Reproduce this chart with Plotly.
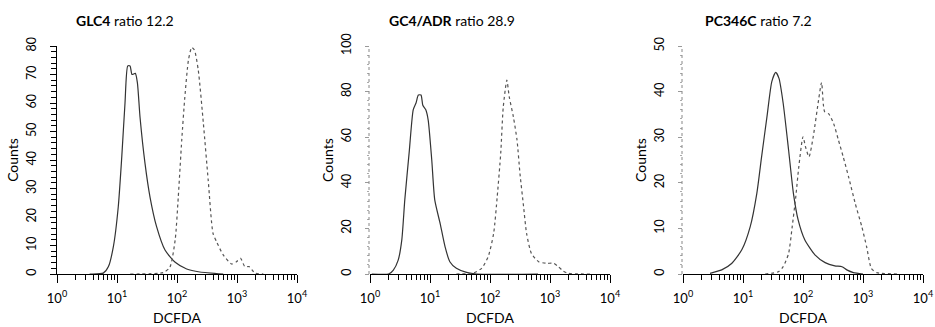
import plotly.graph_objects as go

# ---------------- data (DCFDA fluorescence, counts) ----------------
panel_titles = ["<b>GLC4</b> ratio 12.2", "<b>GC4/ADR</b> ratio 28.9", "<b>PC346C</b> ratio 7.2"]

glc4_ctrl_x = [3.5, 5.9, 7.2, 8.7, 10.5, 12.0, 13.6, 15.1, 16.5, 17.8, 20.2, 21.9, 24.2, 29.3, 35.5, 45.7, 63.1, 93.3, 145, 240, 590]
glc4_ctrl_y = [0, 0.3, 2.6, 9.6, 23.6, 41, 60, 73, 73, 70, 70.4, 67, 55, 38.8, 27, 16.6, 8.4, 4.1, 1.75, 0.7, 0]
glc4_dcf_x = [16.6, 58.9, 75.9, 93.3, 105, 120, 135, 155, 176, 195, 226, 275, 331, 398, 457, 589, 813, 977, 1148, 1349, 1585, 1995, 2754]
glc4_dcf_y = [0, 0.5, 2.3, 12, 27, 47, 62, 75, 79.5, 78.6, 71.6, 52.9, 33, 14.3, 11.3, 6.7, 3.5, 4.3, 5.5, 2.6, 2.6, 0.3, 0]

gc4adr_ctrl_x = [1.07, 2.04, 2.45, 2.95, 3.39, 3.8, 4.52, 5.25, 5.85, 6.4, 7.08, 7.59, 8.51, 9.33, 10.7, 12.0, 14.8, 17.8, 21.4, 27.5, 40.7, 60.3, 631]
gc4adr_ctrl_y = [0, 0, 1.75, 6.1, 15, 32.5, 54, 72, 75, 78.5, 78.5, 74, 72, 67.5, 50, 32.5, 22, 12, 5.4, 2.5, 0.7, 0, 0]
gc4adr_dcf_x = [27.5, 52.5, 72.4, 93.3, 115, 132, 151, 166, 191, 209, 245, 282, 316, 363, 407, 490, 646, 871, 1148, 1380, 1660, 1995, 4677]
gc4adr_dcf_y = [0, 0.4, 2.5, 7.6, 17.8, 34, 53, 73, 85, 77.8, 69, 58.8, 44, 29.5, 17.8, 9, 5.4, 4.7, 4.7, 3.2, 1.3, 0.3, 0]

pc346c_ctrl_x = [2.82, 4.42, 6.46, 9.55, 13.2, 17.0, 20.4, 25.1, 30.2, 35.1, 39.8, 46.8, 57.5, 69.2, 83.2, 107, 158, 234, 339, 447, 537, 692, 1000]
pc346c_ctrl_y = [0.15, 0.9, 2.3, 5.3, 10.4, 17.7, 25.7, 34.5, 42.2, 44.2, 42.9, 37.4, 27.2, 17.7, 11.8, 7.5, 4.2, 2.5, 1.8, 1.6, 0.9, 0.3, 0]
pc346c_dcf_x = [23.4, 38.9, 46.8, 57.5, 66.1, 75.9, 85.1, 100, 110, 126, 148, 182, 204, 229, 269, 324, 389, 468, 575, 741, 955, 1148, 1380, 1698, 3802]
pc346c_dcf_y = [0, 0.5, 1.6, 4.5, 10.4, 17, 23.5, 30.1, 27.9, 25.7, 30.1, 38.2, 42, 35.6, 35.1, 33, 29.4, 25.7, 21.3, 15.5, 10.4, 6, 1.2, 0.3, 0]

y_max = [80, 100, 50]
y_label_step = [10, 20, 10]
y_minor_step = [2, 4, 2]

x_tickvals = [1, 10, 100, 1000, 10000]
x_ticktext = ["10<sup>0</sup>", "10<sup>1</sup>", "10<sup>2</sup>", "10<sup>3</sup>", "10<sup>4</sup>"]
x_minor_vals = [m * d for d in (1, 10, 100, 1000) for m in range(2, 10)]

# ---------------- layout geometry ----------------
W, H = 935, 327
plot_left = [57, 370, 683]
plot_w = 240
plot_top, plot_bot = 46, 274
title_left = [74, 387, 703]

series = [
    (glc4_ctrl_x, glc4_ctrl_y, glc4_dcf_x, glc4_dcf_y),
    (gc4adr_ctrl_x, gc4adr_ctrl_y, gc4adr_dcf_x, gc4adr_dcf_y),
    (pc346c_ctrl_x, pc346c_ctrl_y, pc346c_dcf_x, pc346c_dcf_y),
]

narrow = "Lato, Liberation Sans Narrow, sans-serif"
regular = "Lato, Open Sans, sans-serif"

fig = go.Figure()
annotations = []
shapes = []
for i, (cx, cy, dx, dy) in enumerate(series):
    n = "" if i == 0 else str(i + 1)
    xa, ya = "x" + n, "y" + n
    fig.add_trace(go.Scatter(x=cx, y=cy, mode="lines", xaxis=xa, yaxis=ya,
                             line=dict(color="#333333", width=1.2, shape="spline", smoothing=0.6),
                             showlegend=False, hoverinfo="skip"))
    fig.add_trace(go.Scatter(x=dx, y=dy, mode="lines", xaxis=xa, yaxis=ya,
                             line=dict(color="#555555", width=1.2, dash="dot", shape="spline", smoothing=0.6),
                             showlegend=False, hoverinfo="skip"))
    xd = [plot_left[i] / W, (plot_left[i] + plot_w) / W]
    yd = [1 - plot_bot / H, 1 - plot_top / H]
    solid_y = (i == 0)
    fig.layout["xaxis" + n] = dict(
        domain=xd, type="log", range=[0, 4], anchor=ya,
        showline=True, linecolor="black", linewidth=1,
        ticks="outside", ticklen=8, tickwidth=1, tickcolor="black",
        tickvals=x_tickvals, ticktext=x_ticktext,
        minor=dict(tickvals=x_minor_vals, ticks="outside", ticklen=5, tickwidth=1, tickcolor="black", showgrid=False),
        showgrid=False, zeroline=False,
        tickfont=dict(family=regular, size=13, color="black"),
        ticklabelstandoff=4,
        title=dict(text="DCFDA", font=dict(family=regular, size=14, color="black"), standoff=8),
        automargin=False,
    )
    fig.layout["yaxis" + n] = dict(
        domain=yd, range=[0, y_max[i]], anchor=xa,
        showline=solid_y, linecolor="black", linewidth=1,
        ticks="outside", ticklen=6 if solid_y else 4, tickwidth=1,
        tickcolor="black" if solid_y else "#999999",
        dtick=y_label_step[i], tick0=0,
        minor=dict(dtick=y_minor_step[i], ticks="outside", ticklen=5 if solid_y else 2,
                   tickwidth=1, tickcolor="black" if solid_y else "#aaaaaa", showgrid=False),
        showgrid=False, zeroline=False, tickangle=-90,
        tickfont=dict(family=narrow, size=12.5, color="black"),
        ticklabelstandoff=9,
        title=dict(text="Counts", font=dict(family=narrow, size=14, color="black"), standoff=2),
        automargin=False,
    )
    if not solid_y:
        shapes.append(dict(type="line", xref="paper", yref="paper",
                           x0=(plot_left[i] - 1) / W, x1=(plot_left[i] - 1) / W,
                           y0=yd[0], y1=yd[1],
                           line=dict(color="#888888", width=1, dash="dot")))
    annotations.append(dict(text=panel_titles[i], xref="paper", yref="paper",
                            x=title_left[i] / W, y=1 - 20 / H, xanchor="left", yanchor="middle",
                            showarrow=False, font=dict(family=narrow, size=14, color="black")))

fig.update_layout(width=W, height=H, margin=dict(l=0, r=0, t=0, b=0),
                  paper_bgcolor="white", plot_bgcolor="white",
                  annotations=annotations, shapes=shapes, showlegend=False)
fig.write_html("out.html", config={"displayModeBar": False},
               post_script="document.body.style.margin='0';document.body.style.padding='0';")
